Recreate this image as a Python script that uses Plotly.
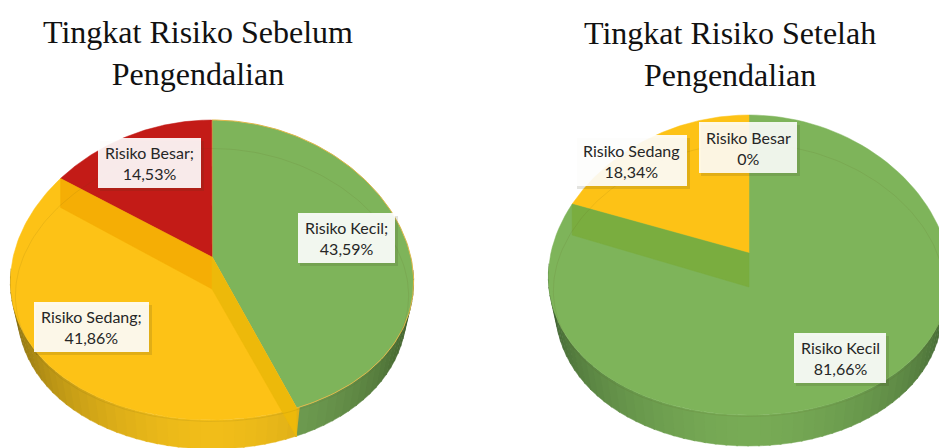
import numpy as np
import plotly.graph_objects as go

categories = ["Risiko Kecil", "Risiko Sedang", "Risiko Besar"]
values_before = [43.59, 41.86, 14.53]
values_after = [81.66, 18.34, 0]
label_before = ["43,59%", "41,86%", "14,53%"]
label_after = ["81,66%", "18,34%", "0%"]
title_before = "Tingkat Risiko Sebelum<br>Pengendalian"
title_after = "Tingkat Risiko Setelah<br>Pengendalian"
slice_colors = ["#7EB45A", "#FDC216", "#C31B17"]


def hex_rgb(h):
    return np.array([int(h[i:i + 2], 16) for i in (1, 3, 5)], float)


def mix(a, b, t):
    c = hex_rgb(a) * (1 - t) + hex_rgb(b) * t
    return "rgb(%d,%d,%d)" % tuple(c)


fig = go.Figure()


def poly(x, y, fill, line=None, width=0):
    fig.add_trace(go.Scatter(
        x=x, y=y, mode="lines", fill="toself", fillcolor=fill,
        line=dict(color=line or fill, width=width if line else 0.5),
        hoverinfo="skip", showlegend=False))


def draw_pie(values, cx, cy, rx, ry, apex_y, depth, wall, strips, rim_line=None):
    K = 0.08

    def rim(deg, dy=0.0, shrink=1.0):
        a = np.radians(np.asarray(deg, float))
        s, c = np.sin(a), np.cos(a)
        return cx + rx * shrink * s * (1 - K * c), cy - ry * c + dy

    cum = np.concatenate([[0], np.cumsum(values)]) / 100 * 360

    # outer wall, shaded by angle; the lower edge is slightly narrower
    step = 3
    for a0 in np.arange(90, 270, step):
        mid = a0 + step / 2
        idx = int(np.searchsorted(cum, mid) - 1)
        idx = min(max(idx, 0), 2)
        dark, bright = wall[idx]
        t = min(abs(mid - 180) / 90, 1) ** 1.5
        arc = np.linspace(a0, a0 + step + 0.5, 4)
        x, y = rim(arc)
        xb, yb = rim(arc[::-1], depth, 0.965)
        poly(np.r_[x, xb], np.r_[y, yb], mix(bright, dark, t))

    # top faces
    for i, col in enumerate(slice_colors):
        if values[i] <= 0:
            continue
        arc = np.linspace(cum[i], cum[i + 1], 120)
        x, y = rim(arc)
        poly(np.r_[cx, x, cx], np.r_[apex_y, y, apex_y], col,
             line=rim_line if i == 0 else None, width=1)

    # inner walls at the slice boundaries
    for boundary, col in strips:
        bx, by = rim(cum[boundary])
        poly([cx, float(bx), float(bx), cx, cx],
             [apex_y, float(by), float(by) + depth, apex_y + depth + 3, apex_y],
             col)

    # faint inner contour
    arc = np.linspace(0, 360, 240)
    x, y = rim(arc)
    fig.add_trace(go.Scatter(
        x=cx + (x - cx) * 0.975, y=cy + 15 + (y - cy) * 0.91, mode="lines",
        line=dict(color="rgba(90,80,20,0.10)", width=1),
        hoverinfo="skip", showlegend=False))


draw_pie(values_before, 212, 270, 201, 150, 257, 29,
         wall=[("#2F4A1F", "#78A858"), ("#6E5C10", "#F2BE1A"), ("#8A1512", "#C31B17")],
         strips=[(2, "#F5AE05"), (1, "#EDB90A")], rim_line="#E0B84A")
draw_pie(values_after, 749, 265, 200, 150, 253, 31,
         wall=[("#34522A", "#78AC56"), ("#8A7414", "#F2BE1A"), ("#8A1512", "#C31B17")],
         strips=[(1, "#7AAD3F")])

boxes = [
    (298, 395, 213, 263, categories[0] + ";<br>" + label_before[0], 0.91),
    (34, 149, 302, 352, categories[1] + ";<br>" + label_before[1], 0.9),
    (98, 201, 138, 188, categories[2] + ";<br>" + label_before[2], 0.91),
    (794, 886, 333, 383, categories[0] + "<br>" + label_after[0], 0.9),
    (575, 687, 135, 186, categories[1] + "<br>" + label_after[1], 0.9),
    (699, 797, 122, 173, categories[2] + "<br>" + label_after[2], 0.88),
]
shapes, annotations = [], []
for x0, x1, y0, y1, text, alpha in boxes:
    shapes.append(dict(type="rect", xref="x", yref="y", x0=x0 + 2, x1=x1 + 3, y0=y0 + 3, y1=y1 + 3,
                       fillcolor="rgba(60,60,30,0.14)", line=dict(width=0), layer="above"))
    shapes.append(dict(type="rect", xref="x", yref="y", x0=x0, x1=x1, y0=y0, y1=y1,
                       fillcolor="rgba(255,255,255,%s)" % alpha, line=dict(width=0), layer="above"))
    annotations.append(dict(x=(x0 + x1) / 2, y=(y0 + y1) / 2, xref="x", yref="y", text=text,
                            showarrow=False, align="center", xanchor="center", yanchor="middle",
                            font=dict(family="Lato", size=16, color="#262626")))

annotations.append(dict(x=197.5, y=53, xref="x", yref="y", text=title_before, showarrow=False,
                        align="center", xanchor="center", yanchor="middle",
                        font=dict(family="Liberation Serif", size=32, color="#111111")))
annotations.append(dict(x=730, y=54, xref="x", yref="y", text=title_after, showarrow=False,
                        align="center", xanchor="center", yanchor="middle",
                        font=dict(family="Liberation Serif", size=32, color="#111111")))

fig.update_layout(
    width=939, height=448, margin=dict(l=0, r=0, t=0, b=0),
    paper_bgcolor="white", plot_bgcolor="white", showlegend=False,
    xaxis=dict(range=[0, 939], visible=False, fixedrange=True),
    yaxis=dict(range=[448, 0], visible=False, fixedrange=True),
    shapes=shapes, annotations=annotations,
)
fig.write_html("out.html", config=dict(displayModeBar=False),
               post_script="document.body.style.margin='0';document.body.style.overflow='hidden';")
